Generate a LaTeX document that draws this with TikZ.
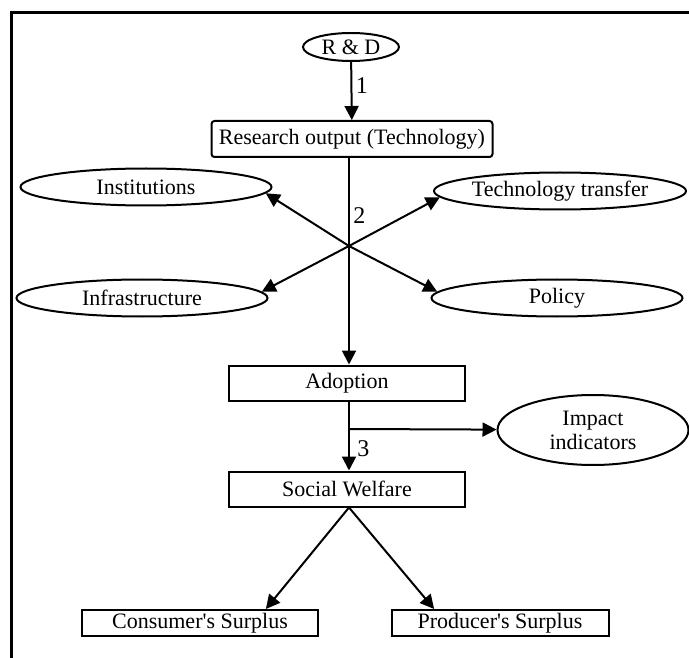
\documentclass[tikz,border=0pt]{standalone}
\usepackage{fontspec}
\setmainfont{Liberation Serif}[Ligatures=TeXOff]
\usetikzlibrary{shapes.geometric,arrows.meta}
\tikzset{
  box/.style={draw, line width=2pt, minimum height=35pt, inner sep=0pt},
  oval/.style={draw, ellipse, line width=2pt, inner sep=0pt, minimum width=251pt, minimum height=37pt},
  flow/.style={line width=2pt, -{Triangle[length=14pt,width=14pt]}},
  tag/.style={right, font=\fontsize{24}{26}\selectfont},
}
\begin{document}
\begin{tikzpicture}[x=1pt,y=-1pt,font=\fontsize{22}{24}\selectfont]
  \useasboundingbox (0,0) rectangle (689,658);
  \draw[line width=3pt] (11,658) -- (11,13) -- (689,13);
  \draw
    (351,47) node[oval, minimum width=96pt, minimum height=28pt] (rd){R \& D}
    (352,139) node[box, rounded corners=3pt, minimum width=281pt, minimum height=36pt] (res){Research output (Technology)}
    (146,187) node[oval] (inst){Institutions}
    (142,298) node[oval] (infra){Infrastructure}
    (560,191) node[oval, minimum width=252pt] (trans){Technology transfer}
    (557,298) node[oval] (pol){Policy}
    (347,383) node[box, minimum width=236pt] (adopt){Adoption}
    (593,430) node[oval, minimum width=191pt, minimum height=70pt, align=center] (imp){Impact\\indicators}
    (347,489) node[box, minimum width=236pt] (welf){Social Welfare}
    (200,623) node[box, minimum width=236pt, minimum height=26pt] (cons){Consumer's Surplus}
    (500,623) node[box, minimum width=217pt, minimum height=26pt] (prod){Producer's Surplus};
  \coordinate (cross) at (349,246);
  \coordinate (split) at (349,429);
  \begin{scope}[flow]
    \draw (rd) -- node[tag, pos=0.4] (one){1} (res);
    \draw (res.south -| cross) -- node[tag, pos=0.28] (two){2} (adopt.north -| cross);
    \draw (cross) -- (inst.-3);
    \draw (cross) -- (infra.3);
    \draw (cross) -- (trans.183);
    \draw (cross) -- (pol.177);
    \draw (adopt.south -| split) -- node[tag, pos=0.68, xshift=4pt] (three){3} (welf.north -| split);
    \draw (split) -- (imp);
    \draw (welf.south -| split) -- (cons.12);
    \draw (welf.south -| split) -- (prod.168);
  \end{scope}
\end{tikzpicture}
\end{document}
